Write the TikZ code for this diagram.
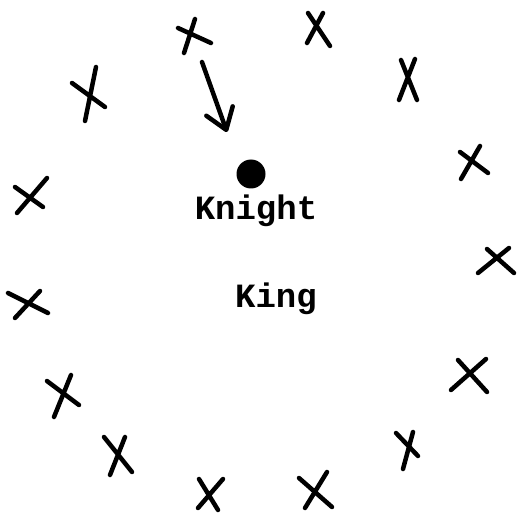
\documentclass[tikz,border=0pt]{standalone}
\usepackage{fontspec}
\setmonofont{Liberation Mono}
\usetikzlibrary{arrows.meta}
\tikzset{
  stroke/.style={line width=4.5pt, line cap=round, line join=round},
  label/.style={font=\ttfamily\bfseries\fontsize{34}{38}\selectfont, inner sep=0pt, anchor=base},
  knightdot/.style={circle, fill=black, minimum size=29pt, inner sep=0pt},
}
\begin{document}
\begin{tikzpicture}[x=1pt, y=-1pt]
\useasboundingbox (0,0) rectangle (517,513);
% knight, labels
\node[knightdot] (knight) at (251,174) {};
\node[label] (knighttext) at (256,220) {Knight};
\node[label] (kingtext) at (276,307) {King};
% arrow
\coordinate (astart) at (202,62);
\coordinate (aend) at (227,132);
\draw[stroke, -{Straight Barb[length=20pt, width=28pt, line cap=round, line join=round]}] (astart) -- (aend);
% X marks (each two strokes)
\draw[stroke] (178,28) -- (211,43) (195,19) -- (184,53);
\draw[stroke] (96,67) -- (85,121) (72,83) -- (105,107);
\draw[stroke] (47,178) -- (17,213) (15,187) -- (43,207);
\draw[stroke] (40,291) -- (15,318) (8,293) -- (48,313);
\draw[stroke] (71,375) -- (54,417) (47,381) -- (79,405);
\draw[stroke] (125,437) -- (110,475) (104,437) -- (132,472);
\draw[stroke] (223,479) -- (198,508) (199,479) -- (218,510);
\draw[stroke] (308,13) -- (330,46) (323,13) -- (307,43);
\draw[stroke] (401,60) -- (417,100) (415,59) -- (399,100);
\draw[stroke] (480,146) -- (461,179) (460,152) -- (488,173);
\draw[stroke] (509,248) -- (478,273) (487,249) -- (514,273);
\draw[stroke] (486,359) -- (451,390) (458,360) -- (487,392);
\draw[stroke] (413,432) -- (403,469) (396,433) -- (418,456);
\draw[stroke] (327,472) -- (305,508) (299,478) -- (332,507);
\end{tikzpicture}
\end{document}
